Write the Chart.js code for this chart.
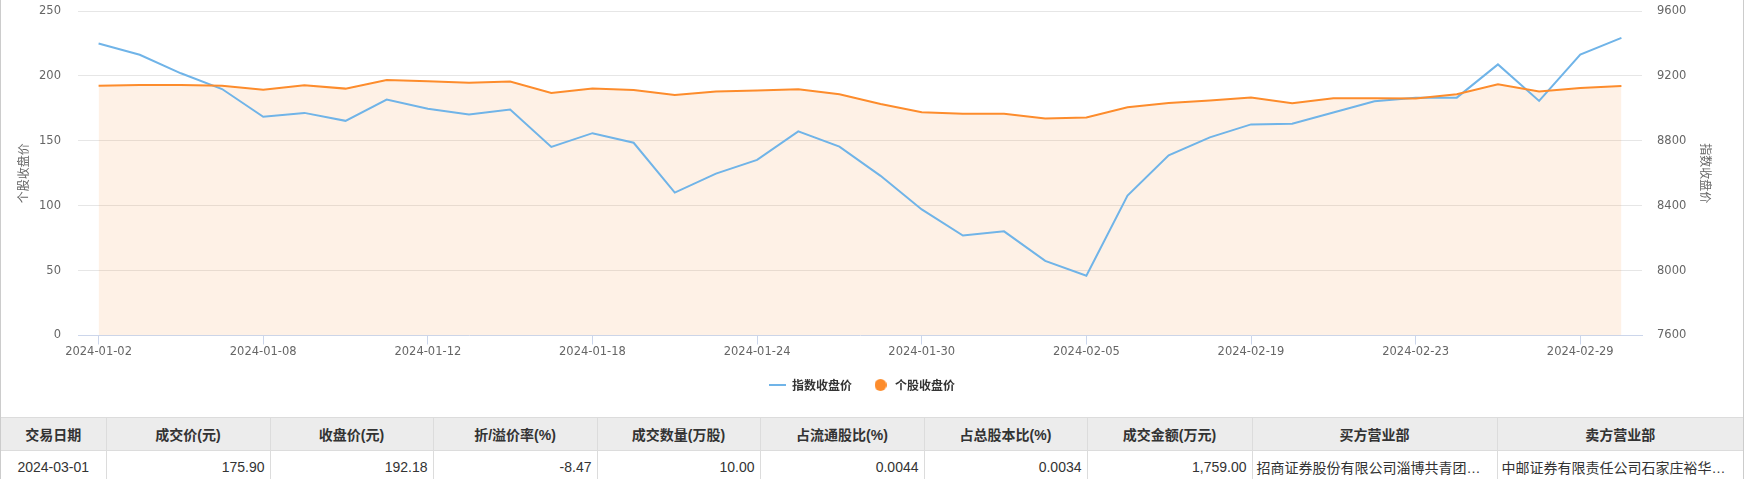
<!DOCTYPE html>
<html>
<head>
<meta charset="utf-8">
<script src="https://cdn.jsdelivr.net/npm/chart.js@4.4.1/dist/chart.umd.min.js"></script>
<style>
  body { margin: 0; background: #fff; }
  .box { position: absolute; left: 0; top: 0; width: 1742px; height: 479px; border-left: 1px solid #ccc; border-right: 1px solid #ccc; overflow: hidden; }
  .chart { position: relative; width: 1742px; height: 401px; }
  table { position: absolute; top: 417px; left: 0; width: 1742px; border-collapse: collapse; table-layout: fixed;
          font-family: "Liberation Sans", "Noto Sans CJK SC", sans-serif; font-size: 14px; color: #333; }
  tr { height: 33px; }
  th, td { border: 1px solid #dcdcdc; padding: 0 5px; white-space: nowrap; overflow: hidden; text-overflow: ellipsis; }
  th:first-child, td:first-child { border-left: none; }
  th:last-child, td:last-child { border-right: none; }
  th { background: #ececec; font-weight: bold; text-align: center; }
  td { text-align: right; }
  td.c { text-align: center; }
  td.l { text-align: left; padding-left: 4px; }
</style>
</head>
<body>
<div class="box">
  <div class="chart"><canvas id="grafico"></canvas></div>
  <table id="tabla"></table>
</div>
<script>
// datos
const fechas = ['2024-01-02','2024-01-03','2024-01-04','2024-01-05','2024-01-08','2024-01-09','2024-01-10','2024-01-11',
  '2024-01-12','2024-01-15','2024-01-16','2024-01-17','2024-01-18','2024-01-19','2024-01-22','2024-01-23',
  '2024-01-24','2024-01-25','2024-01-26','2024-01-29','2024-01-30','2024-01-31','2024-02-01','2024-02-02',
  '2024-02-05','2024-02-06','2024-02-07','2024-02-08','2024-02-19','2024-02-20','2024-02-21','2024-02-22',
  '2024-02-23','2024-02-26','2024-02-27','2024-02-28','2024-02-29','2024-03-01'];
const indiceCierre = [9400, 9330, 9216, 9119, 8948, 8972, 8923, 9054, 8997, 8962, 8993, 8762, 8847, 8788, 8481, 8598,
  8682, 8858, 8764, 8584, 8377, 8216, 8242, 8060, 7968, 8463, 8710, 8821, 8901, 8905, 8974, 9044,
  9066, 9066, 9271, 9046, 9332, 9434];
const accionCierre = [192.5, 193.0, 193.0, 192.5, 189.4, 192.7, 190.2, 196.8, 195.8, 194.8, 195.6, 186.9, 190.2, 189.2, 185.3, 187.9,
  188.7, 189.7, 185.8, 178.4, 172.0, 170.8, 170.8, 167.2, 168.0, 175.9, 179.2, 181.0, 183.3, 178.9, 182.8, 182.8,
  182.5, 185.8, 193.5, 187.9, 190.7, 192.18];
const ejeIzq = [0, 250, 50];       // min, max, paso
const ejeDer = [7600, 9600, 400];
const etiquetas = ['指数收盘价', '个股收盘价'];
const columnas = ['交易日期','成交价(元)','收盘价(元)','折/溢价率(%)','成交数量(万股)','占流通股比(%)','占总股本比(%)','成交金额(万元)','买方营业部','卖方营业部'];
const fila = ['2024-03-01','175.90','192.18','-8.47','10.00','0.0044','0.0034','1,759.00','招商证券股份有限公司淄博共青团西路证券营业部','中邮证券有限责任公司石家庄裕华路证券营业部'];
const anchos = [105,164,163,164,163,164,163,165,245,246];

const AZUL = '#70b4e8';
const NARANJA = '#fd8c2c';

// tabla
let html = '<colgroup>' + anchos.map(w => '<col style="width:' + w + 'px">').join('') + '</colgroup>';
html += '<tr>' + columnas.map(c => '<th>' + c + '</th>').join('') + '</tr>';
html += '<tr>' + fila.map((v, i) => '<td class="' + (i === 0 ? 'c' : (i >= 8 ? 'l' : '')) + '">' + v + '</td>').join('') + '</tr>';
document.getElementById('tabla').innerHTML = html;

// iconos de la leyenda
function iconoLinea() {
  const c = document.createElement('canvas');
  c.width = 17; c.height = 2;
  const g = c.getContext('2d');
  g.fillStyle = AZUL; g.fillRect(0, 0, 17, 2);
  return c;
}
function iconoPunto() {
  const c = document.createElement('canvas');
  c.width = 12; c.height = 12;
  const g = c.getContext('2d');
  g.fillStyle = NARANJA; g.beginPath(); g.arc(6, 6, 6, 0, Math.PI * 2); g.fill();
  return c;
}
const iconos = [iconoLinea(), iconoPunto()];

const fuente = "'DejaVu Sans', 'Noto Sans CJK SC', sans-serif";
const SIN_COLOR = 'rgba(0,0,0,0)';

const GRAFICO = document.getElementById('grafico');
let grafica = new Chart(GRAFICO, {
  type: 'line',
  data: {
    labels: fechas,
    datasets: [{
      label: etiquetas[1],
      data: accionCierre,
      yAxisID: 'y',
      borderColor: NARANJA,
      backgroundColor: 'rgba(245, 140, 50, 0.12)',
      borderWidth: 2,
      fill: 'origin',
      pointRadius: 0,
      tension: 0
    }, {
      label: etiquetas[0],
      data: indiceCierre,
      yAxisID: 'y1',
      borderColor: AZUL,
      borderWidth: 2,
      fill: false,
      pointRadius: 0,
      tension: 0
    }]
  },
  options: {
    responsive: true,
    maintainAspectRatio: false,
    animation: false,
    layout: { padding: { top: 11, left: 0, right: 0, bottom: 0 } },
    plugins: {
      filler: { drawTime: 'beforeDatasetsDraw' },
      tooltip: { enabled: false },
      legend: {
        position: 'bottom',
        labels: {
          usePointStyle: true,
          pointStyleWidth: 17,
          boxHeight: 12,
          padding: 20,
          color: '#333',
          font: { family: "'Noto Sans CJK SC', sans-serif", size: 12, weight: 'bold' },
          generateLabels: chart => [1, 0].map((k, j) => ({
            text: chart.data.datasets[k].label,
            datasetIndex: k,
            pointStyle: iconos[j],
            fillStyle: chart.data.datasets[k].borderColor,
            strokeStyle: chart.data.datasets[k].borderColor,
            lineWidth: 0,
            hidden: false,
            fontColor: '#333'
          }))
        }
      }
    },
    scales: {
      x: {
        offset: true,
        afterFit: s => { s.height = 23.5; },
        border: { display: true, color: '#ccd6eb', width: 1 },
        grid: { display: true, drawOnChartArea: false, drawTicks: true, tickLength: 9, color: '#ccd6eb', offset: false },
        ticks: {
          autoSkip: false, maxRotation: 0, padding: 1, color: '#666',
          font: { family: fuente, size: 11.5 },
          callback: function (v, i) { return i % 4 === 0 ? this.getLabelForValue(v) : null; }
        }
      },
      y: {
        position: 'left',
        min: ejeIzq[0], max: ejeIzq[1],
        afterFit: s => { s.width = 77; },
        border: { display: false },
        grid: { drawTicks: true, tickLength: 13, tickColor: SIN_COLOR,
                color: c => c.tick.value === ejeIzq[0] ? SIN_COLOR : '#e6e6e6' },
        ticks: { stepSize: ejeIzq[2], padding: 4, color: '#666', font: { family: fuente, size: 11.5 } },
        title: { display: true, text: etiquetas[1], color: '#666', font: { family: fuente, size: 12 }, padding: { top: 17, bottom: 0 } }
      },
      y1: {
        position: 'right',
        min: ejeDer[0], max: ejeDer[1],
        afterFit: s => { s.width = 101; },
        border: { display: false },
        grid: { display: true, drawOnChartArea: false, drawTicks: true, tickLength: 12, tickColor: SIN_COLOR, color: SIN_COLOR },
        ticks: { stepSize: ejeDer[2], padding: 3, color: '#666', font: { family: fuente, size: 11.5 }, callback: v => String(v) },
        title: { display: true, text: etiquetas[0], color: '#666', font: { family: fuente, size: 12 }, padding: { top: 32, bottom: 0 } }
      }
    }
  },
  plugins: [{
    id: 'moverLeyenda',
    afterLayout: chart => { chart.legend.left -= 10; chart.legend.right -= 10; }
  }]
});
</script>
</body>
</html>
